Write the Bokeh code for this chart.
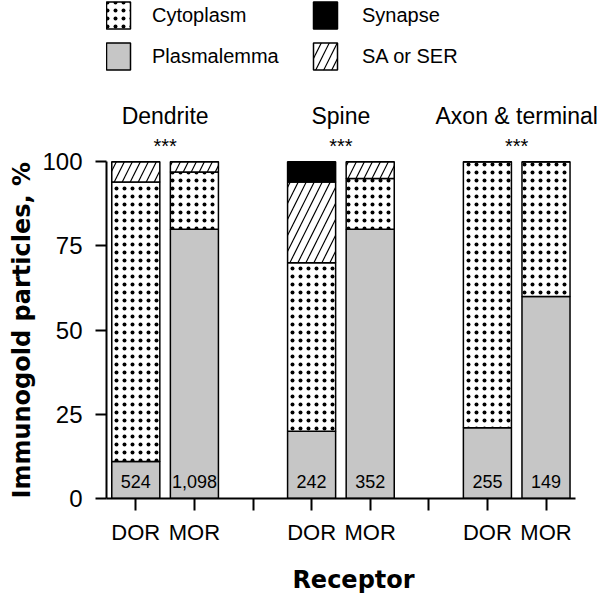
from bokeh.plotting import figure
from bokeh.models import Range1d, FixedTicker, Legend, LegendItem, Title
from bokeh.core.properties import value
from bokeh.embed import file_html
from bokeh.resources import INLINE

# ---- data ----
groups = ["Dendrite", "Spine", "Axon & terminal"]
significance = ["***", "***", "***"]
receptors = ["DOR", "MOR"]
plasmalemma = [11, 80, 20, 80, 21, 60]
cytoplasm = [83, 17, 50, 15, 79, 40]
sa_ser = [6, 3, 24, 5, 0, 0]
synapse = [0, 0, 6, 0, 0, 0]
counts = ["524", "1,098", "242", "352", "255", "149"]
y_ticks = [0, 25, 50, 75, 100]

# positions: two receptors per group, one empty slot between groups
xs = [g * 3 + r + 1 for g in range(len(groups)) for r in range(len(receptors))]
group_x = [g * 3 + 1.5 for g in range(len(groups))]
tick_pos = list(range(1, 3 * len(groups)))
labels = {}
for t in tick_pos:
    labels[t] = ""
for i, x in enumerate(xs):
    labels[x] = receptors[i % 2]

b1 = plasmalemma
b2 = [a + b for a, b in zip(b1, cytoplasm)]
b3 = [a + b for a, b in zip(b2, sa_ser)]
b4 = [a + b for a, b in zip(b3, synapse)]

FONT = "Liberation Sans"

p = figure(width=600, height=596, output_backend="svg", toolbar_location=None,
           title=None, x_range=Range1d(0.5, 8.93), y_range=Range1d(0, 147.9),
           min_border_left=106, min_border_right=0, min_border_top=0,
           min_border_bottom=96)
p.outline_line_color = None
p.xgrid.visible = False
p.ygrid.visible = False
p.background_fill_color = "white"

W = 0.82
common = dict(width=W, line_color="black", line_width=1.5)
r_pl = p.vbar(x=xs, bottom=0, top=b1, fill_color="#c6c6c6", **common)
r_cy = p.vbar(x=xs, bottom=b1, top=b2, fill_color="white", hatch_pattern="dot",
              hatch_color="black", hatch_scale=8, hatch_weight=1.0, **common)
r_sa = p.vbar(x=xs, bottom=b2, top=b3, fill_color="white",
              hatch_pattern="right_diagonal_line", hatch_color="black",
              hatch_scale=16, hatch_weight=1.2, **common)
r_sy = p.vbar(x=xs, bottom=b3, top=b4, fill_color="black", **common)

# counts inside bars
p.text(x=xs, y=[5] * len(xs), text=counts, text_align="center",
       text_baseline="middle", text_font=value(FONT), text_font_size="18px",
       text_color="black")

# group labels and significance
p.text(x=group_x, y=[113.5] * len(groups), text=groups, text_align="center",
       text_baseline="middle", text_font=value(FONT), text_font_size="23px",
       text_color="black")
p.text(x=group_x, y=[104.8] * len(groups), text=significance, text_align="center",
       text_baseline="middle", text_font=value(FONT), text_font_size="20px",
       text_color="black")

# y axis title, starting at the bottom of the plot area
ytitle = Title(text="Immunogold particles, %", align="left", offset=0,
               text_font="DejaVu Sans", text_font_style="bold",
               text_font_size="24px", text_color="black", standoff=8)
p.add_layout(ytitle, "left")

# axes
p.yaxis.ticker = FixedTicker(ticks=y_ticks)
p.yaxis.bounds = (0, 100)
p.yaxis.major_label_text_font = FONT
p.yaxis.major_label_text_font_size = "24px"
p.yaxis.major_label_text_color = "black"
p.yaxis.major_label_standoff = 13
p.yaxis.major_tick_out = 11
p.yaxis.major_tick_in = 0
p.yaxis.minor_tick_line_color = None
p.yaxis.axis_line_width = 2
p.yaxis.axis_line_color = "black"
p.yaxis.major_tick_line_width = 2
p.yaxis.major_tick_line_color = "black"

p.xaxis.ticker = FixedTicker(ticks=tick_pos)
p.xaxis.bounds = (0.5, 8.5)
p.xaxis.major_label_overrides = labels
p.xaxis.axis_label = "Receptor"
p.xaxis.axis_label_text_font = "DejaVu Sans"
p.xaxis.axis_label_text_font_style = "bold"
p.xaxis.axis_label_text_font_size = "24px"
p.xaxis.axis_label_text_color = "black"
p.xaxis.axis_label_standoff = 18
p.xaxis.major_label_text_font = FONT
p.xaxis.major_label_text_font_size = "22px"
p.xaxis.major_label_text_color = "black"
p.xaxis.major_label_standoff = 9
p.xaxis.major_tick_out = 12
p.xaxis.major_tick_in = 0
p.xaxis.minor_tick_line_color = None
p.xaxis.axis_line_width = 2
p.xaxis.axis_line_color = "black"
p.xaxis.major_tick_line_width = 2
p.xaxis.major_tick_line_color = "black"

# legends (two columns)
def make_legend(items, loc, standoff):
    return Legend(items=items, location=loc, orientation="vertical",
                  glyph_width=30, glyph_height=34, label_standoff=standoff,
                  spacing=7, padding=0, margin=0, border_line_color=None,
                  background_fill_alpha=0, label_text_font=FONT,
                  label_text_font_size="20px", label_text_color="black",
                  label_height=34)

leg1 = make_legend([LegendItem(label="Cytoplasm", renderers=[r_cy]),
                    LegendItem(label="Plasmalemma", renderers=[r_pl])], (-3, 425), 19)
leg2 = make_legend([LegendItem(label="Synapse", renderers=[r_sy]),
                    LegendItem(label="SA or SER", renderers=[r_sa])], (204, 425), 22)
p.add_layout(leg1)
p.add_layout(leg2)

open("out.html", "w").write(file_html(p, INLINE))
